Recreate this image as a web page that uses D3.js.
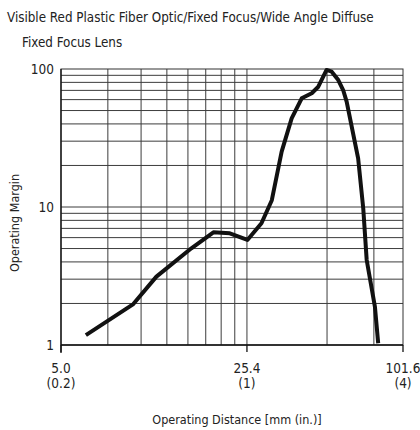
<!DOCTYPE html>
<html><head><meta charset="utf-8">
<script src="https://cdn.jsdelivr.net/npm/d3@7"></script>
<style>
html,body{margin:0;padding:0;background:#fff;}
text{font-family:"Liberation Sans Narrow","Arial Narrow","DejaVu Sans Condensed",sans-serif;font-stretch:condensed;fill:#222;}
</style></head>
<body>
<svg id="c" width="420" height="430"></svg>
<script>
// ---- data ----
const titleLines = ["Visible Red Plastic Fiber Optic/Fixed Focus/Wide Angle Diffuse", "Fixed Focus Lens"];
const xLabel = "Operating Distance [mm (in.)]";
const yLabel = "Operating Margin";
const distanceMm = [6.3, 9.5, 11.6, 15.7, 19.0, 21.9, 25.5, 28.8, 31.5, 34.3, 37.4, 40.8, 44.5, 47.1, 50.6, 52.9, 56.0, 58.4, 60.2, 66.5, 69.5, 71.6, 76.9, 79.1];
const margin =     [1.18, 1.98, 3.13, 5.02, 6.56, 6.45, 5.77, 7.62, 11.2, 25.2, 43.9, 61.3, 66.7, 74.4, 98.4, 95.6, 83.2, 70.4, 58.0, 22.5, 9.78, 4.13, 1.89, 1.03];
const xDomainIn = [0.2, 3.86];
const xGridIn = [0.3, 0.4, 0.5, 0.6, 0.7, 0.8, 0.9, 1, 2, 3];
const xTickIn = [0.2, 1, 3.86];
const xTickMmLabels = ["5.0", "25.4", "101.6"];
const xTickInLabels = ["(0.2)", "(1)", "(4)"];
const yDomain = [1, 100];
const yGrid = [2,3,4,5,6,7,8,9,10,20,30,40,50,60,70,80,90];
const yTicks = [1, 10, 100];
const yTickLabels = ["1", "10", "100"];
const MM_PER_IN = 25.4;

// ---- layout ----
const L = 61, R = 403, T = 69, B = 345;
const svg = d3.select("#c");
const x = d3.scaleLog().domain(xDomainIn.map(d => d * MM_PER_IN)).range([L, R]);
const y = d3.scaleLog().domain(yDomain).range([B, T]);

// grid
const g = svg.append("g");
g.selectAll("line.v").data(xGridIn).join("line")
  .attr("x1", d => x(d * MM_PER_IN)).attr("x2", d => x(d * MM_PER_IN))
  .attr("y1", T).attr("y2", B).attr("stroke", "#3c3c3c").attr("stroke-width", 1);
g.selectAll("line.h").data(yGrid).join("line")
  .attr("y1", d => y(d)).attr("y2", d => y(d))
  .attr("x1", L).attr("x2", R).attr("stroke", "#3c3c3c").attr("stroke-width", 1);

// frame
svg.append("rect").attr("x", L).attr("y", T).attr("width", R - L).attr("height", B - T)
  .attr("fill", "none").attr("stroke", "#333").attr("stroke-width", 1);
svg.append("line").attr("x1", L).attr("x2", L).attr("y1", T).attr("y2", B + 8).attr("stroke", "#111").attr("stroke-width", 1.3);
svg.append("line").attr("x1", L).attr("x2", R).attr("y1", B).attr("y2", B).attr("stroke", "#111").attr("stroke-width", 1.3);

// x ticks
const xt = svg.append("g");
xt.selectAll("line").data(xTickIn).join("line")
  .attr("x1", d => x(d * MM_PER_IN)).attr("x2", d => x(d * MM_PER_IN))
  .attr("y1", B).attr("y2", B + 7).attr("stroke", "#111").attr("stroke-width", 1.3);
xt.selectAll("text.mm").data(xTickIn).join("text").attr("class", "mm")
  .attr("x", d => x(d * MM_PER_IN)).attr("y", 373).attr("text-anchor", "middle")
  .attr("font-size", 13.5).text((d, i) => xTickMmLabels[i]);
xt.selectAll("text.in").data(xTickIn).join("text").attr("class", "in")
  .attr("x", d => x(d * MM_PER_IN)).attr("y", 388).attr("text-anchor", "middle")
  .attr("font-size", 13.5).text((d, i) => xTickInLabels[i]);

// y ticks
svg.append("g").selectAll("text").data(yTicks).join("text")
  .attr("x", L - 7).attr("y", d => y(d)).attr("dy", "0.36em").attr("text-anchor", "end")
  .attr("font-size", 13.5).text((d, i) => yTickLabels[i]);

// curve
const line = d3.line().x(d => x(d[0])).y(d => y(d[1])).curve(d3.curveLinear);
svg.append("path").datum(distanceMm.map((d, i) => [d, margin[i]]))
  .attr("d", line).attr("fill", "none").attr("stroke", "#111").attr("stroke-width", 4)
  .attr("stroke-linejoin", "round");

// titles
svg.append("text").attr("x", 7).attr("y", 22).attr("font-size", 13.3).text(titleLines[0]);
svg.append("text").attr("x", 22).attr("y", 47).attr("font-size", 13.3).text(titleLines[1]);
svg.append("text").attr("x", 237).attr("y", 424).attr("text-anchor", "middle").attr("font-size", 12.5).text(xLabel);
svg.append("text").attr("transform", "translate(19,223) rotate(-90)").attr("text-anchor", "middle")
  .attr("font-size", 12.5).text(yLabel);
</script>
</body></html>
